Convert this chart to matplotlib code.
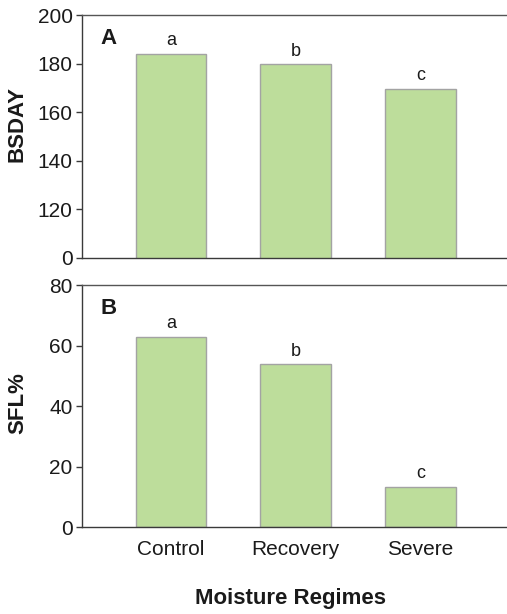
import matplotlib
matplotlib.use("Agg")
import matplotlib.pyplot as plt

plt.rcParams['font.family'] = ['Liberation Sans', 'DejaVu Sans']

categories = ["Control", "Recovery", "Severe"]
bsday = [184.0, 179.8, 169.8]
sfl = [63.0, 53.8, 13.4]
letters = ["a", "b", "c"]
bsday_ticks = [100, 120, 140, 160, 180, 200]
bsday_ticklabels = ["0", "120", "140", "160", "180", "200"]
sfl_ticks = [0, 20, 40, 60, 80]

bar_color = "#bddd9b"
edge_color = "#a3a3a3"
spine_color = "#3a3a3a"
text_color = "#1a1a1a"

fig = plt.figure(figsize=(5.07, 6.14), dpi=100)
ax1 = fig.add_axes([0.1623, 0.5803, 0.8377, 0.3945])
ax2 = fig.add_axes([0.1623, 0.1412, 0.8377, 0.3946])

x = list(range(len(categories)))

def style(ax):
    ax.spines['right'].set_visible(False)
    for s in ['top', 'left', 'bottom']:
        ax.spines[s].set_color(spine_color)
        ax.spines[s].set_linewidth(1.0)
    ax.spines['top'].set_color("#555555")
    ax.tick_params(axis='y', direction='out', length=4, width=1, color=spine_color,
                   labelsize=15, pad=3, labelcolor=text_color)
    ax.set_xlim(-0.711, 2.695)

# Top panel (broken axis: bottom labelled 0)
ax1.bar(x, bsday, width=0.565, color=bar_color, edgecolor=edge_color, linewidth=1.0, bottom=0)
ax1.set_ylim(100, 200)
ax1.set_yticks(bsday_ticks)
ax1.set_yticklabels(bsday_ticklabels)
ax1.set_xticks([])
style(ax1)
for xi, v, l in zip(x, bsday, letters):
    ax1.annotate(l, (xi, v), xytext=(0, 9.6), textcoords='offset points',
                 ha='center', va='center', fontsize=13, color=text_color)
ax1.text(0.043, 0.905, "A", transform=ax1.transAxes, fontsize=16, fontweight='bold',
         ha='left', va='center', color=text_color)
ax1.set_ylabel("BSDAY", fontsize=16, fontweight='bold', color=text_color)
ax1.yaxis.set_label_coords(-0.128, 0.552)

# Bottom panel
ax2.bar(x, sfl, width=0.565, color=bar_color, edgecolor=edge_color, linewidth=1.0)
ax2.set_ylim(0, 80)
ax2.set_yticks(sfl_ticks)
ax2.set_xticks(x)
ax2.set_xticklabels(categories)
style(ax2)
ax2.tick_params(axis='x', length=0, labelsize=15, pad=9, labelcolor=text_color)
for xi, v, l in zip(x, sfl, letters):
    ax2.annotate(l, (xi, v), xytext=(0, 9.6), textcoords='offset points',
                 ha='center', va='center', fontsize=13, color=text_color)
ax2.text(0.043, 0.905, "B", transform=ax2.transAxes, fontsize=16, fontweight='bold',
         ha='left', va='center', color=text_color)
ax2.set_ylabel("SFL%", fontsize=16, fontweight='bold', color=text_color)
ax2.yaxis.set_label_coords(-0.128, 0.511)
ax2.set_xlabel("Moisture Regimes", fontsize=16, fontweight='bold', color=text_color,
               va='center')
ax2.xaxis.set_label_coords(0.49, -0.292)

fig.savefig("out.png", dpi=100)
